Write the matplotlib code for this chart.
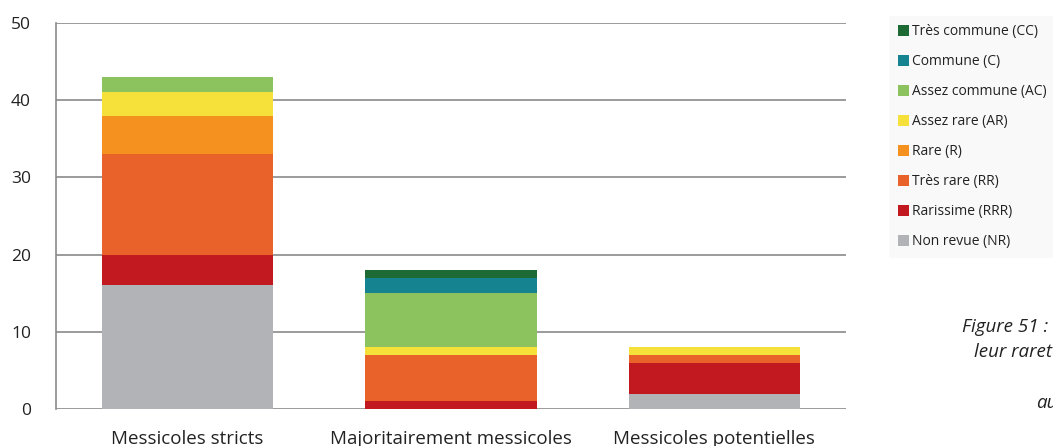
import numpy as np
import matplotlib
matplotlib.use('Agg')
import matplotlib.pyplot as plt
from matplotlib.patches import Patch

plt.rcParams['font.family'] = ['Open Sans', 'DejaVu Sans']

# --- data ---
categories = ['Messicoles stricts', 'Majoritairement messicoles', 'Messicoles potentielles']
# stacked from bottom to top
series_names = ['Non revue (NR)', 'Rarissime (RRR)', 'Très rare (RR)', 'Rare (R)',
                'Assez rare (AR)', 'Assez commune (AC)', 'Commune (C)', 'Très commune (CC)']
nr = [16, 0, 2]
rrr = [4, 1, 4]
rr = [13, 6, 1]
r = [5, 0, 0]
ar = [3, 1, 1]
ac = [2, 7, 0]
c = [0, 2, 0]
cc = [0, 1, 0]
series_values = [nr, rrr, rr, r, ar, ac, c, cc]
colors = ['#b1b3b6', '#c1191f', '#e8622a', '#f5921f', '#f6e03a', '#8cc35e', '#168490', '#1d6a34']
yticks = [0, 10, 20, 30, 40, 50]

fig = plt.figure(figsize=(10.53, 4.46), dpi=100)
ax = fig.add_axes([0.0532, 0.0830, 0.7502, 0.8654])

x = np.arange(len(categories))
bottom = np.zeros(len(categories))
for vals, col in zip(series_values, colors):
    ax.bar(x, vals, bottom=bottom, width=0.65, color=col, edgecolor='none', zorder=3)
    bottom += np.array(vals)

ax.set_xlim(-0.5, 2.5)
ax.set_ylim(0, 50)
ax.set_yticks(yticks)
ax.yaxis.grid(True, color='#8a8a8a', linewidth=1.2, zorder=0)
ax.set_axisbelow(True)
for s in ['top', 'right', 'bottom']:
    ax.spines[s].set_visible(False)
ax.spines['left'].set_color('#8a8a8a')
ax.spines['left'].set_linewidth(1.2)
ax.tick_params(axis='y', length=0, pad=18, labelsize=12.5, labelcolor='#222222')
ax.tick_params(axis='x', length=0, pad=15, labelsize=13.5, labelcolor='#222222')
ax.set_xticks(x)
ax.set_xticklabels(categories)

handles = [Patch(facecolor=col, edgecolor='none') for col in colors][::-1]
labels = series_names[::-1]
leg = fig.legend(handles, labels, loc='upper left', bbox_to_anchor=(0.838, 0.98),
                 fontsize=10, frameon=True, facecolor='#f8f8f8', edgecolor='none',
                 fancybox=False, handlelength=0.8, handleheight=0.8, handletextpad=0.2,
                 labelspacing=1.08, borderpad=0.6)
for t in leg.get_texts():
    t.set_color('#222222')

fig.text(962 / 1053, 1 - 332 / 446, 'Figure 51 :', fontsize=13.5, style='italic', color='#222222')
fig.text(974 / 1053, 1 - 357 / 446, 'leur rareté', fontsize=13.5, style='italic', color='#222222')
fig.text(1036 / 1053, 1 - 408 / 446, 'au', fontsize=13.5, style='italic', color='#222222')

fig.savefig('out.png', dpi=100)
